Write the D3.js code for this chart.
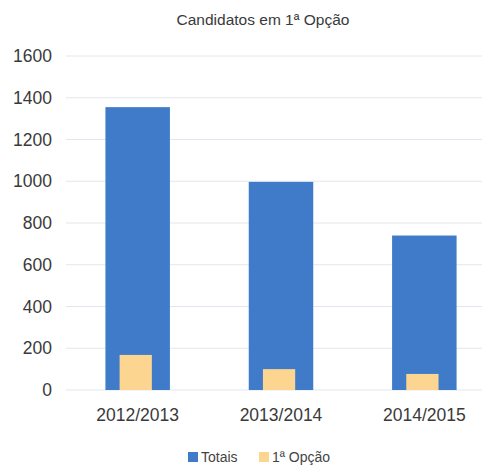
<!doctype html>
<html lang="pt">
<head>
  <meta charset="utf-8">
  <title>Candidatos em 1ª Opção</title>
  <style>
    body { margin: 0; background: #fff; }
    svg { display: block; font-family: "Liberation Sans", Arial, sans-serif; }
  </style>
</head>
<body>
  <svg id="chart" width="482" height="466"></svg>
  <script src="https://cdn.jsdelivr.net/npm/d3@7"></script>
  <script>
    var categories = ["2012/2013", "2013/2014", "2014/2015"];
    var totais = [1355, 997, 740];
    var primeira = [168, 100, 77];
    var yTicks = [0, 200, 400, 600, 800, 1000, 1200, 1400, 1600];

    var svg = d3.select("#chart");

    var x = d3.scaleBand()
      .domain(categories)
      .range([66, 496])
      .paddingInner(0.55)
      .paddingOuter(0.275);

    var y = d3.scaleLinear()
      .domain([0, 1600])
      .range([390, 56]);

    // gridlines
    svg.append("g")
      .selectAll("line")
      .data(yTicks)
      .join("line")
      .attr("x1", 66)
      .attr("x2", 482)
      .attr("y1", function(d) { return y(d); })
      .attr("y2", function(d) { return y(d); })
      .attr("stroke", "#e3e6ee")
      .attr("stroke-width", 1);

    // y labels
    svg.append("g")
      .selectAll("text")
      .data(yTicks)
      .join("text")
      .attr("x", 52)
      .attr("y", function(d) { return y(d); })
      .attr("dy", "0.35em")
      .attr("text-anchor", "end")
      .attr("font-size", 17.5)
      .attr("fill", "#3a3a3a")
      .text(function(d) { return d; });

    // total bars
    svg.append("g")
      .selectAll("rect")
      .data(totais)
      .join("rect")
      .attr("x", function(d, i) { return x(categories[i]); })
      .attr("y", function(d) { return y(d); })
      .attr("width", x.bandwidth())
      .attr("height", function(d) { return y(0) - y(d); })
      .attr("fill", "#3f7bc9");

    // 1a opcao bars
    svg.append("g")
      .selectAll("rect")
      .data(primeira)
      .join("rect")
      .attr("x", function(d, i) { return x(categories[i]) + x.bandwidth() * 0.22; })
      .attr("y", function(d) { return y(d); })
      .attr("width", x.bandwidth() * 0.5)
      .attr("height", function(d) { return y(0) - y(d); })
      .attr("fill", "#fcd690");

    // category labels
    svg.append("g")
      .selectAll("text")
      .data(categories)
      .join("text")
      .attr("x", function(d) { return x(d) + x.bandwidth() / 2; })
      .attr("y", 421)
      .attr("text-anchor", "middle")
      .attr("font-size", 17.5)
      .attr("fill", "#3a3a3a")
      .text(function(d) { return d; });

    // title
    svg.append("text")
      .attr("x", 263)
      .attr("y", 25)
      .attr("text-anchor", "middle")
      .attr("font-size", 15.5)
      .attr("fill", "#3a3a3a")
      .text("Candidatos em 1ª Opção");

    // legend
    var legend = [
      { label: "Totais", color: "#3f7bc9", x: 188 },
      { label: "1ª Opção", color: "#fcd690", x: 259 }
    ];
    var lg = svg.append("g")
      .selectAll("g")
      .data(legend)
      .join("g")
      .attr("transform", function(d) { return "translate(" + d.x + ",452)"; });
    lg.append("rect")
      .attr("width", 10)
      .attr("height", 10)
      .attr("fill", function(d) { return d.color; });
    lg.append("text")
      .attr("x", 13)
      .attr("y", 10)
      .attr("font-size", 14)
      .attr("fill", "#444")
      .text(function(d) { return d.label; });
  </script>
</body>
</html>
